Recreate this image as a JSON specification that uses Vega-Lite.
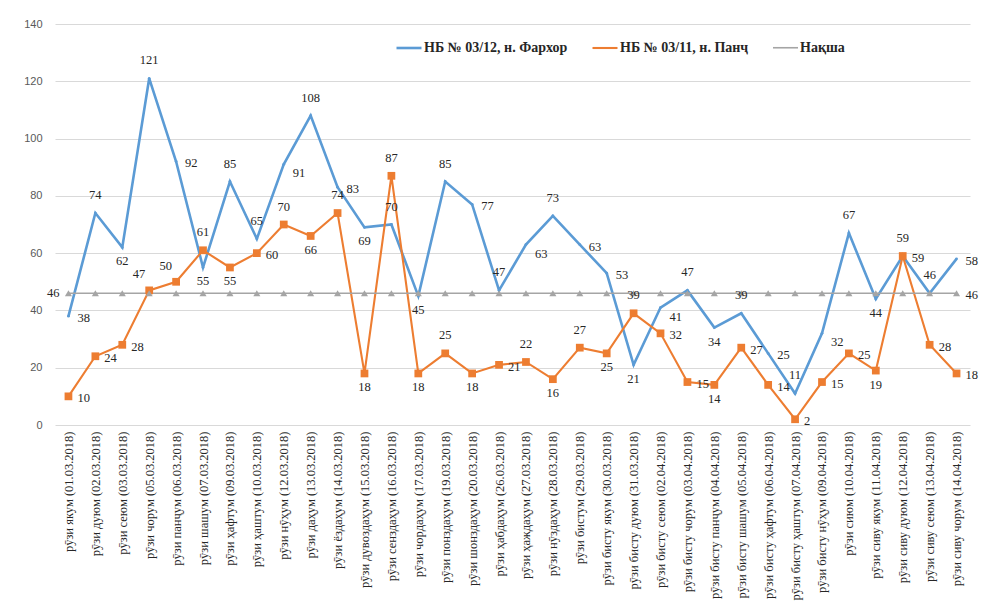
{
  "$schema": "https://vega.github.io/schema/vega-lite/v6.json",
  "width": 915,
  "height": 401,
  "autosize": "none",
  "padding": {"left": 55, "top": 24, "right": 19, "bottom": 176},
  "background": "white",
  "data": {
    "values": [
      {"d": "рӯзи якум (01.03.2018)", "f": 38, "p": 10, "n": 46},
      {"d": "рӯзи дуюм (02.03.2018)", "f": 74, "p": 24, "n": 46},
      {"d": "рӯзи сеюм (03.03.2018)", "f": 62, "p": 28, "n": 46},
      {"d": "рӯзи чорум (05.03.2018)", "f": 121, "p": 47, "n": 46},
      {"d": "рӯзи панҷум (06.03.2018)", "f": 92, "p": 50, "n": 46},
      {"d": "рӯзи шашум (07.03.2018)", "f": 55, "p": 61, "n": 46},
      {"d": "рӯзи ҳафтум (09.03.2018)", "f": 85, "p": 55, "n": 46},
      {"d": "рӯзи ҳаштум (10.03.2018)", "f": 65, "p": 60, "n": 46},
      {"d": "рӯзи нӯҳум (12.03.2018)", "f": 91, "p": 70, "n": 46},
      {"d": "рӯзи даҳум (13.03.2018)", "f": 108, "p": 66, "n": 46},
      {"d": "рӯзи ёздаҳум (14.03.2018)", "f": 83, "p": 74, "n": 46},
      {"d": "рӯзи дувоздаҳум (15.03.2018)", "f": 69, "p": 18, "n": 46},
      {"d": "рӯзи сенздаҳум (16.03.2018)", "f": 70, "p": 87, "n": 46},
      {"d": "рӯзи чордаҳум (17.03.2018)", "f": 45, "p": 18, "n": 46},
      {"d": "рӯзи понздаҳум (19.03.2018)", "f": 85, "p": 25, "n": 46},
      {"d": "рӯзи шонздаҳум (20.03.2018)", "f": 77, "p": 18, "n": 46},
      {"d": "рӯзи ҳабдаҳум (26.03.2018)", "f": 47, "p": 21, "n": 46},
      {"d": "рӯзи ҳаждаҳум (27.03.2018)", "f": 63, "p": 22, "n": 46},
      {"d": "рӯзи нӯздаҳум (28.03.2018)", "f": 73, "p": 16, "n": 46},
      {"d": "рӯзи бистум (29.03.2018)", "f": 63, "p": 27, "n": 46},
      {"d": "рӯзи бисту якум (30.03.2018)", "f": 53, "p": 25, "n": 46},
      {"d": "рӯзи бисту дуюм (31.03.2018)", "f": 21, "p": 39, "n": 46},
      {"d": "рӯзи бисту сеюм (02.04.2018)", "f": 41, "p": 32, "n": 46},
      {"d": "рӯзи бисту чорум (03.04.2018)", "f": 47, "p": 15, "n": 46},
      {"d": "рӯзи бисту панҷум (04.04.2018)", "f": 34, "p": 14, "n": 46},
      {"d": "рӯзи бисту шашум (05.04.2018)", "f": 39, "p": 27, "n": 46},
      {"d": "рӯзи бисту ҳафтум (06.04.2018)", "f": 25, "p": 14, "n": 46},
      {"d": "рӯзи бисту ҳаштум (07.04.2018)", "f": 11, "p": 2, "n": 46},
      {"d": "рӯзи бисту нӯҳум (09.04.2018)", "f": 32, "p": 15, "n": 46},
      {"d": "рӯзи сиюм (10.04.2018)", "f": 67, "p": 25, "n": 46},
      {"d": "рӯзи сиву якум (11.04.2018)", "f": 44, "p": 19, "n": 46},
      {"d": "рӯзи сиву дуюм (12.04.2018)", "f": 59, "p": 59, "n": 46},
      {"d": "рӯзи сиву сеюм (13.04.2018)", "f": 46, "p": 28, "n": 46},
      {"d": "рӯзи сиву чорум (14.04.2018)", "f": 58, "p": 18, "n": 46}
    ]
  },
  "transform": [
    {"window": [{"op": "row_number", "as": "i"}]},
    {"window": [{"op": "lag", "field": "f", "as": "prevf"}], "sort": [{"field": "i", "order": "ascending"}], "frame": [null, null]},
    {"fold": ["f", "p", "n"], "as": ["k", "v"]},
    {"calculate": "datum.k == 'f' ? 'НБ № 03/12, н. Фархор' : (datum.k == 'p' ? 'НБ № 03/11, н. Панҷ' : 'Нақша')", "as": "s"},
    {"window": [{"op": "lag", "field": "v", "as": "prev"}, {"op": "lead", "field": "v", "as": "next"}], "groupby": ["k"], "sort": [{"field": "i", "order": "ascending"}], "frame": [null, null]},
    {"calculate": "datum.prev == null || datum.next == null", "as": "ex"},
    {"calculate": "!datum.ex && datum.v >= datum.prev && datum.v >= datum.next", "as": "mx"},
    {"calculate": "!datum.ex && datum.v <= datum.prev && datum.v <= datum.next", "as": "mn"},
    {"calculate": "datum.k == 'n' ? (datum.prev == null ? 'left' : (datum.next == null ? 'right' : 'none')) : (datum.ex ? 'right' : (datum.k == 'f' ? (datum.mx ? (abs(datum.f - datum.p) < 5 ? 'right' : 'above') : (datum.mn ? (((datum.v >= 46 && datum.v < 50) || (datum.v > datum.p && datum.v - datum.p < 12)) ? 'above' : 'below') : (datum.v > datum.prev ? 'rightlow' : 'right'))) : (datum.mx ? ((datum.prevf > datum.v && datum.prevf - datum.v < 10) ? 'right' : 'above') : (datum.mn ? (datum.v < 8 ? 'right' : 'below') : (datum.v > datum.prev && abs(datum.v - 46) < 6 ? 'upleft' : 'right')))))", "as": "pos"}
  ],
  "encoding": {
    "x": {
      "field": "d", "type": "nominal", "sort": null,
      "axis": {
        "title": null, "labelAngle": -90, "labelFont": "Liberation Serif", "labelFontSize": 12.5,
        "labelColor": "#262626", "labelLimit": 300, "labelPadding": 6, "domain": false, "ticks": false
      }
    },
    "y": {
      "field": "v", "type": "quantitative",
      "scale": {"domain": [0, 140], "nice": false},
      "axis": {
        "title": null, "values": [0, 20, 40, 60, 80, 100, 120, 140], "labelFont": "Liberation Sans",
        "labelFontSize": 11, "labelColor": "#595959", "labelPadding": 13, "domain": false, "ticks": false,
        "gridColor": "#D9D9D9", "gridWidth": 1
      }
    }
  },
  "layer": [
    {
      "mark": {"type": "line", "interpolate": "linear"},
      "encoding": {
        "color": {
          "field": "s", "type": "nominal",
          "scale": {"domain": ["НБ № 03/12, н. Фархор", "НБ № 03/11, н. Панҷ", "Нақша"], "range": ["#5B9BD5", "#ED7D31", "#A5A5A5"]},
          "legend": {
            "title": null, "orient": "none", "legendX": 340, "legendY": 10, "direction": "horizontal",
            "symbolType": "stroke", "symbolSize": 625, "symbolStrokeWidth": 2.2,
            "labelFont": "Liberation Serif", "labelFontSize": 14, "labelFontWeight": "bold", "labelColor": "#262626",
            "columnPadding": 20, "labelOffset": 1, "labelLimit": 300
          }
        },
        "strokeWidth": {
          "field": "s", "type": "nominal",
          "scale": {"domain": ["НБ № 03/12, н. Фархор", "НБ № 03/11, н. Панҷ", "Нақша"], "range": [2.6, 1.6, 2]},
          "legend": null
        }
      }
    },
    {
      "transform": [{"filter": "datum.k == 'f'"}],
      "mark": {"type": "point", "shape": "circle", "filled": true, "opacity": 1, "size": 8, "color": "#5B9BD5"},
      "encoding": {}
    },
    {
      "transform": [{"filter": "datum.k == 'p'"}],
      "mark": {"type": "point", "shape": "square", "filled": true, "opacity": 1, "size": 60, "color": "#ED7D31"},
      "encoding": {}
    },
    {
      "transform": [{"filter": "datum.k == 'n'"}],
      "mark": {"type": "point", "shape": "triangle-up", "filled": true, "opacity": 1, "size": 50, "color": "#A5A5A5"},
      "encoding": {}
    },
    {
      "transform": [{"filter": "datum.pos == 'above'"}],
      "mark": {"type": "text", "dy": -11, "baseline": "bottom", "font": "Liberation Serif", "fontSize": 12.5, "color": "#262626"},
      "encoding": {"text": {"field": "v", "type": "quantitative"}}
    },
    {
      "transform": [{"filter": "datum.pos == 'below'"}],
      "mark": {"type": "text", "dy": 8, "baseline": "top", "font": "Liberation Serif", "fontSize": 12.5, "color": "#262626"},
      "encoding": {"text": {"field": "v", "type": "quantitative"}}
    },
    {
      "transform": [{"filter": "datum.pos == 'right'"}],
      "mark": {"type": "text", "dx": 9, "dy": 2, "align": "left", "baseline": "middle", "font": "Liberation Serif", "fontSize": 12.5, "color": "#262626"},
      "encoding": {"text": {"field": "v", "type": "quantitative"}}
    },
    {
      "transform": [{"filter": "datum.pos == 'rightlow'"}],
      "mark": {"type": "text", "dx": 9, "dy": 9, "align": "left", "baseline": "middle", "font": "Liberation Serif", "fontSize": 12.5, "color": "#262626"},
      "encoding": {"text": {"field": "v", "type": "quantitative"}}
    },
    {
      "transform": [{"filter": "datum.pos == 'upleft'"}],
      "mark": {"type": "text", "dx": -4, "dy": -9, "align": "right", "baseline": "bottom", "font": "Liberation Serif", "fontSize": 12.5, "color": "#262626"},
      "encoding": {"text": {"field": "v", "type": "quantitative"}}
    },
    {
      "transform": [{"filter": "datum.pos == 'left'"}],
      "mark": {"type": "text", "dx": -9, "align": "right", "baseline": "middle", "font": "Liberation Serif", "fontSize": 12.5, "color": "#262626"},
      "encoding": {"text": {"field": "v", "type": "quantitative"}}
    }
  ],
  "config": {"view": {"stroke": null}}
}
